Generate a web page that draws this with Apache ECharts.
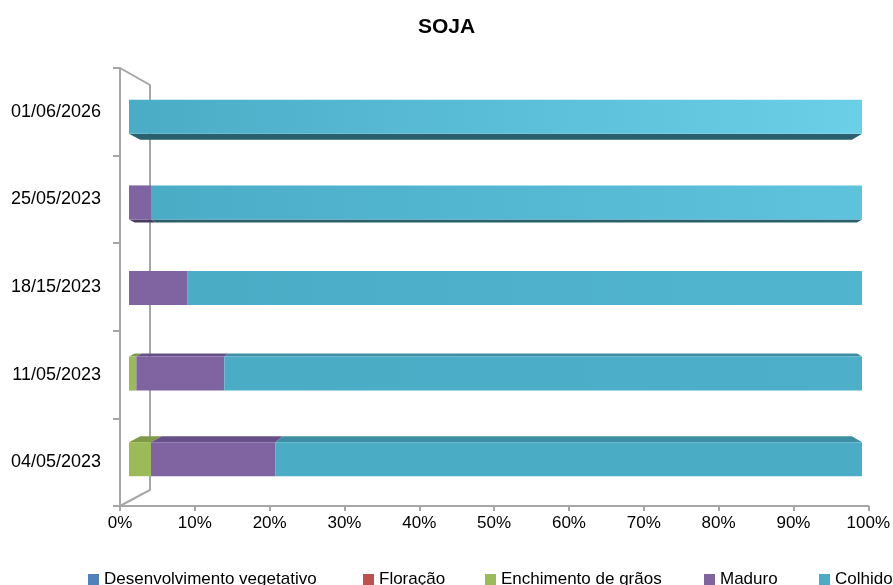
<!DOCTYPE html>
<html>
<head>
<meta charset="utf-8">
<script src="https://cdn.jsdelivr.net/npm/echarts@6/dist/echarts.min.js"></script>
<style>html,body{margin:0;padding:0;background:#fff;}#c{width:893px;height:585px;}</style>
</head>
<body>
<div id="c"></div>
<script>
const categories = ['04/05/2023', '11/05/2023', '18/15/2023', '25/05/2023', '01/06/2026'];
const seriesNames = ['Desenvolvimento vegetativo', 'Floração', 'Enchimento de grãos', 'Maduro', 'Colhido'];
const desenvolvimento = [0, 0, 0, 0, 0];
const floracao = [0, 0, 0, 0, 0];
const enchimento = [3, 1, 0, 0, 0];
const maduro = [17, 12, 8, 3, 0];
const colhido = [80, 87, 92, 97, 100];
const xTicks = [0, 10, 20, 30, 40, 50, 60, 70, 80, 90, 100];

const values = [desenvolvimento, floracao, enchimento, maduro, colhido];
const colors = ['#4F81BD', '#C0504D', '#9BBB59', '#8064A2', '#4BACC6'];
const topFace = ['#3F6A9C', '#9E3F3C', '#7E9A48', '#67508A', '#3D8EA5'];
const bottomFace = ['#2C4A70', '#6E2B29', '#556832', '#4A3A62', '#2A5F6E'];
const colhidoEnd = ['#4BACC6', '#4DAFC9', '#52B5CF', '#5EC3DD', '#6BCFE8'];
const FONT = 'Liberation Sans';

// segments for depth faces, derived from the arrays
const segs = [];
for (let i = 0; i < categories.length; i++) {
  let acc = 0;
  for (let s = 0; s < values.length; s++) {
    const v = values[s][i];
    if (v > 0) { segs.push([i, acc, acc + v, s]); }
    acc += v;
  }
}

const chart = echarts.init(document.getElementById('c'), null, {renderer: 'canvas'});

const barSeries = seriesNames.map((name, s) => ({
  name: name,
  type: 'bar',
  stack: 'total',
  xAxisIndex: 1,
  yAxisIndex: 1,
  barWidth: 34,
  z: 3,
  itemStyle: {color: colors[s]},
  emphasis: {disabled: true},
  data: values[s].map((v, i) => s === 4 ? {
    value: v,
    itemStyle: {color: new echarts.graphic.LinearGradient(0, 0, 1, 0, [
      {offset: 0, color: '#4BACC6'}, {offset: 1, color: colhidoEnd[i]}])}
  } : v)
}));

const faceSeries = {
  type: 'custom',
  xAxisIndex: 1,
  yAxisIndex: 1,
  z: 2,
  silent: true,
  data: segs,
  renderItem: function (params, api) {
    const i = api.value(0), a = api.value(1), b = api.value(2), s = api.value(3);
    const pA = api.coord([a, i]);
    const pB = api.coord([b, i]);
    const half = 17;
    const depth = (i - 2) * 3;
    if (depth === 0) return null;
    const y0 = depth < 0 ? pA[1] - half : pA[1] + half;
    const y1 = y0 + depth;
    const f = Math.abs(depth) / 6;
    const back = x => x + f * (0.971 * x + 15 - x);
    return {
      type: 'polygon',
      shape: {points: [[pA[0], y0], [pB[0], y0], [back(pB[0]), y1], [back(pA[0]), y1]]},
      style: {fill: depth < 0 ? topFace[s] : bottomFace[s]}
    };
  }
};

const legends = seriesNames.map((name, s) => ({
  data: [name],
  left: [88, 363, 485, 704, 819][s],
  top: 571,
  padding: 0,
  itemWidth: 11,
  itemHeight: 11,
  itemGap: 5,
  icon: 'rect',
  selectedMode: false,
  textStyle: {fontSize: 17, color: '#000', fontFamily: FONT}
}));

chart.setOption({
  animation: false,
  backgroundColor: '#fff',
  title: {
    text: 'SOJA', left: 'center', top: 12,
    textStyle: {fontSize: 21, fontWeight: 'bold', color: '#000', fontFamily: FONT}
  },
  legend: legends,
  grid: [
    {left: 120, right: 23, top: 68, bottom: 79},
    {left: 129, right: 31, top: 74, bottom: 83}
  ],
  xAxis: [
    {
      type: 'value', gridIndex: 0, min: 0, max: 100, interval: 10,
      axisLine: {show: true, lineStyle: {color: '#A6A6A6', width: 2}},
      axisTick: {show: true, length: 5, lineStyle: {color: '#A6A6A6', width: 2}},
      splitLine: {show: false},
      axisLabel: {formatter: v => xTicks.includes(v) ? v + '%' : '', fontSize: 17, color: '#000', margin: 9, fontFamily: FONT}
    },
    {type: 'value', gridIndex: 1, min: 0, max: 100, show: false}
  ],
  yAxis: [
    {
      type: 'category', gridIndex: 0, data: categories,
      axisLine: {show: true, lineStyle: {color: '#A6A6A6', width: 2}},
      axisTick: {show: true, length: 7, lineStyle: {color: '#A6A6A6', width: 2}},
      axisLabel: {fontSize: 18, color: '#000', margin: 19, fontFamily: FONT}
    },
    {type: 'category', gridIndex: 1, data: categories, show: false}
  ],
  graphic: [{
    type: 'polyline', z: 1, silent: true,
    shape: {points: [[120, 68], [150, 85], [150, 490], [120, 506]]},
    style: {stroke: '#A6A6A6', lineWidth: 2, fill: null}
  }],
  series: barSeries.concat([faceSeries])
});
</script>
</body>
</html>
